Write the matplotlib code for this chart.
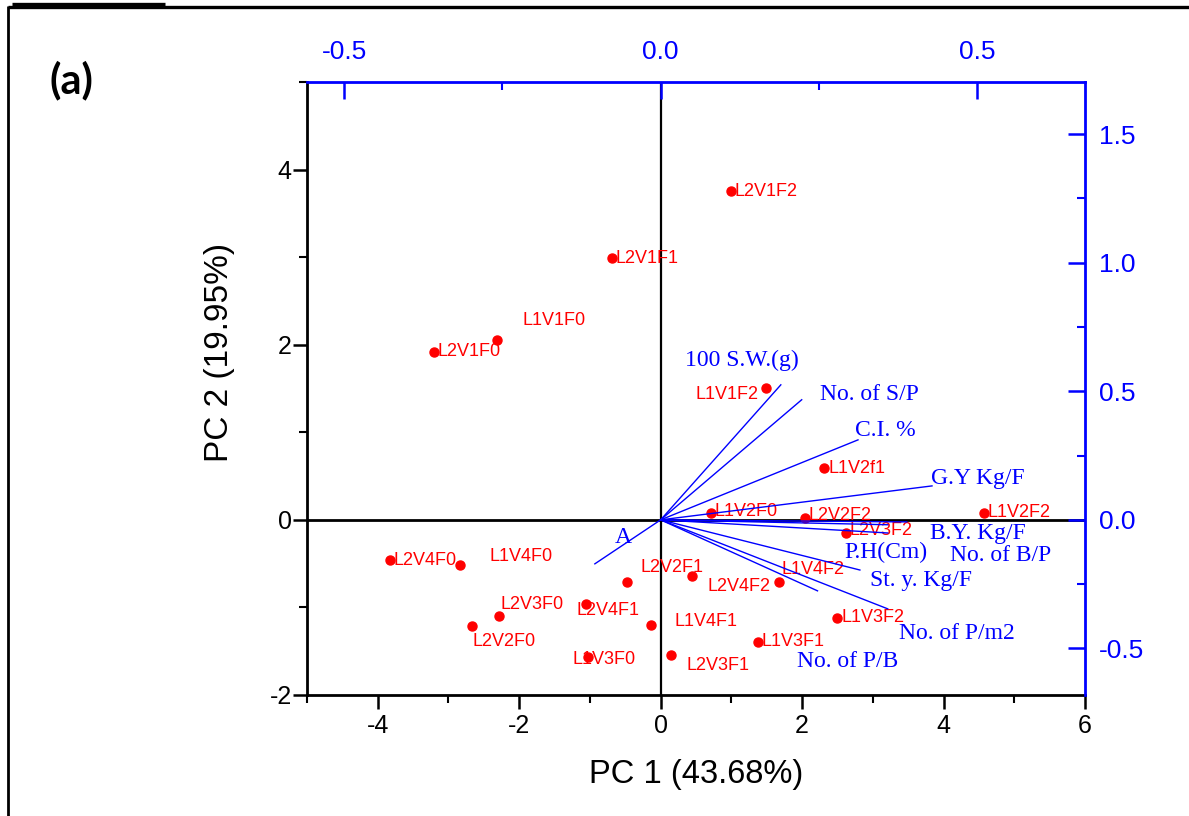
import matplotlib
matplotlib.use('Agg')
import matplotlib.pyplot as plt
from matplotlib.lines import Line2D
from matplotlib.ticker import MultipleLocator

# ---------------- data ----------------
obs_labels = ['L2V1F2', 'L2V1F1', 'L2V1F0', 'L1V1F0', 'L1V1F2', 'L1V2f1',
              'L1V2F0', 'L2V2F2', 'L1V2F2', 'L2V3F2', 'L2V4F0', 'L1V4F0',
              'L2V2F1', 'L2V4F2', 'L1V4F2', 'L2V4F1', 'L2V3F0', 'L2V2F0',
              'L1V4F1', 'L1V3F0', 'L2V3F1', 'L1V3F1', 'L1V3F2']
pc1_scores = [0.99, -0.69, -3.21, -2.32, 1.49, 2.31,
              0.71, 2.04, 4.57, 2.62, -3.83, -2.83,
              -0.47, 0.45, 1.67, -1.05, -2.29, -2.67,
              -0.13, -1.02, 0.14, 1.37, 2.50]
pc2_scores = [3.75, 2.99, 1.92, 2.05, 1.51, 0.59,
              0.08, 0.02, 0.08, -0.15, -0.46, -0.51,
              -0.71, -0.64, -0.71, -0.96, -1.10, -1.21,
              -1.20, -1.57, -1.54, -1.39, -1.12]

var_labels = ['100 S.W.(g)', 'No. of S/P', 'C.I. %', 'G.Y Kg/F', 'B.Y. Kg/F',
              'No. of B/P', 'P.H(Cm)', 'St. y. Kg/F', 'No. of P/m2', 'No. of P/B', 'A']
pc1_loadings = [0.190, 0.223, 0.312, 0.429, 0.389, 0.359, 0.359, 0.315, 0.359, 0.248, -0.104]
pc2_loadings = [0.525, 0.467, 0.311, 0.132, -0.008, -0.019, -0.051, -0.195, -0.346, -0.276, -0.171]

xticks_bottom = [-4, -2, 0, 2, 4, 6]
yticks_left = [-2, 0, 2, 4]
xticks_top = [-0.5, 0.0, 0.5]
yticks_right = [-0.5, 0.0, 0.5, 1.0, 1.5]

xlabel_text = 'PC 1 (43.68%)'
ylabel_text = 'PC 2 (19.95%)'
panel_text = '(a)'

# ---------------- label placement (pixels offset, ha) ----------------
obs_offsets = [(4, 0, 'left'), (4, 0, 'left'), (4, 0, 'left'), (26, 20, 'left'),
               (-8, -7, 'right'), (4, 0, 'left'), (4, 1, 'left'), (4, 3, 'left'),
               (4, 0, 'left'), (4, 2, 'left'), (4, 0, 'left'), (29, 8, 'left'),
               (13, 15, 'left'), (15, -11, 'left'), (3, 13, 'left'), (-10, -7, 'left'),
               (2, 12, 'left'), (1, -16, 'left'), (23, 3, 'left'), (-16, -2, 'left'),
               (16, -11, 'left'), (4, 0, 'left'), (4, 0, 'left')]
var_offsets = [(-96, 24), (18, 5), (-3, 9), (-1, 7), (23, -12), (62, -31),
               (-43, -19), (10, -10), (11, -25), (-21, -71), (20, 26)]

plt.rcParams['font.family'] = ['Liberation Sans', 'DejaVu Sans']
BLUE = '#0000ff'
RED = '#ff0000'

W, H = 1189, 816
fig = plt.figure(figsize=(W / 100, H / 100), dpi=100)
rect = [307 / W, 1 - 695 / H, (1085 - 307) / W, (695 - 82) / H]
ax = fig.add_axes(rect)
ax.set_xlim(-5, 6)
ax.set_ylim(-2, 5)

kx, ky = 8.944, 2.937
ax2 = fig.add_axes(rect, facecolor='none')
ax2.set_xlim(-5 / kx, 6 / kx)
ax2.set_ylim(-2 / ky, 5 / ky)

# primary axis styling
for s in ['top', 'right']:
    ax.spines[s].set_visible(False)
for s in ['bottom', 'left']:
    ax.spines[s].set_linewidth(2)
    ax.spines[s].set_color('black')
ax.set_xticks(xticks_bottom)
ax.set_yticks(yticks_left)
ax.set_xticklabels([f'{v:g}' for v in xticks_bottom])
ax.set_yticklabels([f'{v:g}' for v in yticks_left])
ax.xaxis.set_minor_locator(MultipleLocator(1))
ax.yaxis.set_minor_locator(MultipleLocator(1))
ax.tick_params(which='major', direction='out', length=10, width=1.8, labelsize=18)
ax.tick_params(axis='x', which='major', pad=4)
ax.tick_params(axis='y', which='major', pad=1)
ax.tick_params(which='minor', direction='out', length=6, width=1.5)

# secondary axis styling
for s in ['bottom', 'left']:
    ax2.spines[s].set_visible(False)
for s in ['top', 'right']:
    ax2.spines[s].set_linewidth(2)
    ax2.spines[s].set_color(BLUE)
ax2.xaxis.tick_top()
ax2.yaxis.tick_right()
ax2.set_xticks(xticks_top)
ax2.set_yticks(yticks_right)
ax2.set_xticklabels([f'{v:.1f}' for v in xticks_top])
ax2.set_yticklabels([f'{v:.1f}' for v in yticks_right])
ax2.xaxis.set_minor_locator(MultipleLocator(0.25))
ax2.yaxis.set_minor_locator(MultipleLocator(0.25))
ax2.tick_params(which='major', direction='in', length=12, width=1.8, colors=BLUE,
                labelsize=19)
ax2.tick_params(axis='x', which='major', pad=13)
ax2.tick_params(axis='y', which='major', pad=10)
ax2.tick_params(which='minor', direction='in', length=6, width=1.5, colors=BLUE)

# zero lines
ax.axhline(0, color='black', lw=2, zorder=1)
ax.axvline(0, color='black', lw=1.6, zorder=1)

# scores
ax.plot(pc1_scores, pc2_scores, 'o', color=RED, markersize=6.5, zorder=4)
for lab, x, y, (dx, dy, ha) in zip(obs_labels, pc1_scores, pc2_scores, obs_offsets):
    ax.annotate(lab, (x, y), xytext=(dx, dy), textcoords='offset pixels',
                ha=ha, va='center', color=RED, fontsize=13, zorder=5)

# loadings
for lab, x, y, (dx, dy) in zip(var_labels, pc1_loadings, pc2_loadings, var_offsets):
    ax2.plot([0, x], [0, y], color=BLUE, lw=1.0, zorder=3)
    ax2.annotate(lab, (x, y), xytext=(dx, dy), textcoords='offset pixels',
                 ha='left', va='center', color=BLUE, fontsize=17,
                 family='Liberation Serif', zorder=5)

# axis titles
fig.text(696 / W, 1 - 775 / H, xlabel_text, ha='center', va='center', fontsize=23.5)
fig.text(220 / W, 1 - 352 / H, ylabel_text, ha='center', va='center', fontsize=24,
         rotation=90)
fig.text(71 / W, 1 - 80 / H, panel_text, ha='center', va='center', fontsize=30,
         fontweight='bold', family=['Lato', 'DejaVu Sans'])

# outer frame lines
def fline(x0, y0, x1, y1, lw):
    fig.add_artist(Line2D([x0 / W, x1 / W], [1 - y0 / H, 1 - y1 / H],
                          color='black', lw=lw, transform=fig.transFigure,
                          solid_capstyle='butt'))

fline(8, 7, W, 7, 2.4)
fline(8, 6, 8, H, 2.0)
fline(12, 4, 165, 4, 2.4)

fig.savefig('out.png', dpi=100)
